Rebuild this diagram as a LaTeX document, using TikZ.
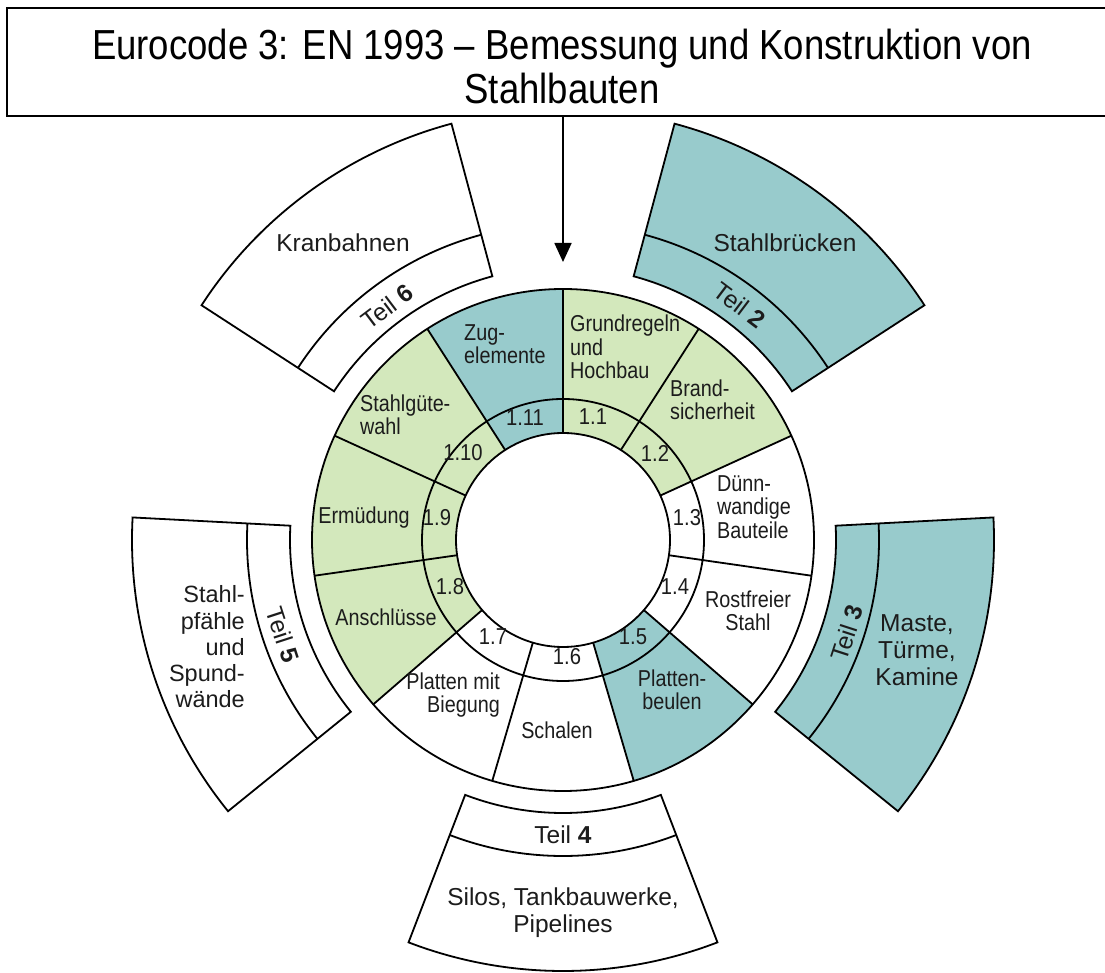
\documentclass[tikz,border=0pt]{standalone}
\usepackage{fontspec}
\setmainfont{Liberation Sans}
\usetikzlibrary{arrows.meta,calc}
\definecolor{wgreen}{RGB}{211,232,188}
\definecolor{wteal}{RGB}{152,203,204}
\definecolor{ink}{RGB}{28,28,28}
\begin{document}
\begin{tikzpicture}[x=1pt,y=1pt,
  ln/.style={line width=1.8pt,line join=miter},
  ringlbl/.style={inner sep=0pt,text=ink,xscale=0.86,font=\fontsize{23}{23.5}\selectfont},
  numlbl/.style={inner sep=0pt,text=ink,xscale=0.88,font=\fontsize{23}{23.5}\selectfont},
  partlbl/.style={inner sep=0pt,text=ink,font=\fontsize{24.5}{27}\selectfont},
  titletext/.style={inner sep=0pt,text=black,align=center,xscale=0.87,font=\fontsize{42}{44}\selectfont},
  titlebox/.style={draw,line width=1.8pt,minimum width=1103pt,minimum height=108pt,inner sep=0pt}]
\useasboundingbox (0,0) rectangle (1105,972);

% title and arrow into the wheel
\node[titlebox] (title) at (558.5,910) {};
\node[titletext] (titletext) at (562,906) {Eurocode 3: EN 1993 -- Bemessung und Konstruktion von\\Stahlbauten};
\coordinate (wheel) at (563,432);
\coordinate (tip) at (563,710);
\draw[line width=1.8pt,-{Triangle[length=19pt,width=17pt]}] (title.south -| tip) -- (tip);

\begin{scope}[shift={(wheel)}]
  % parts 2 to 6 around the wheel
  \foreach \c/\col in {54/wteal,126/white,198/white,270/white,342/wteal}{
    \pgfmathsetmacro\pa{\c-21}
    \pgfmathsetmacro\pb{\c+21}
    \filldraw[ln,fill=\col] (\pa:273) arc[start angle=\pa,end angle=\pb,radius=273]
      -- (\pb:431) arc[start angle=\pb,end angle=\pa,radius=431] -- cycle;
    \draw[ln] (\pa:316) arc[start angle=\pa,end angle=\pb,radius=316];
  }
  % the eleven sectors of part 1
  \foreach \col [count=\i from 0] in {wgreen,wgreen,white,white,wteal,white,white,wgreen,wgreen,wgreen,wteal}{
    \pgfmathsetmacro\sa{90-\i*360/11}
    \pgfmathsetmacro\sb{\sa-360/11}
    \fill[\col] (\sa:107) arc[start angle=\sa,end angle=\sb,radius=107]
      -- (\sb:251) arc[start angle=\sb,end angle=\sa,radius=251] -- cycle;
  }
  \foreach \i in {0,...,10}{
    \pgfmathsetmacro\sa{90-\i*360/11}
    \draw[ln] (\sa:107) -- (\sa:251);
  }
  \draw[ln] (0,0) circle[radius=107] circle[radius=141] circle[radius=251];
\end{scope}

% sector labels
\node[ringlbl,anchor=west,align=left] (s1) at (570,625) {Grundregeln\\und\\Hochbau};
\node[ringlbl,anchor=west,align=left] (s2) at (670,572) {Brand-\\sicherheit};
\node[ringlbl,anchor=west,align=left] (s3) at (717,465) {Dünn-\\wandige\\Bauteile};
\node[ringlbl,align=center] (s4) at (748,361) {Rostfreier\\Stahl};
\node[ringlbl,align=center] (s5) at (672,282) {Platten-\\beulen};
\node[ringlbl] (s6) at (557,242) {Schalen};
\node[ringlbl,anchor=east,align=right] (s7) at (500,277) {Platten mit\\Biegung};
\node[ringlbl] (s8) at (386,355) {Anschlüsse};
\node[ringlbl] (s9) at (364,454) {Ermüdung};
\node[ringlbl,anchor=west,align=left] (s10) at (360,557) {Stahlgüte-\\wahl};
\node[ringlbl,anchor=west,align=left] (s11) at (464,628) {Zug-\\elemente};

% sector numbers
\node[numlbl] (n1) at (593,555) {1.1};
\node[numlbl] (n2) at (655,519) {1.2};
\node[numlbl] (n3) at (687,454) {1.3};
\node[numlbl] (n4) at (675,385) {1.4};
\node[numlbl] (n5) at (633,335) {1.5};
\node[numlbl] (n6) at (567,315) {1.6};
\node[numlbl] (n7) at (493,335) {1.7};
\node[numlbl] (n8) at (450,385) {1.8};
\node[numlbl] (n9) at (437,454) {1.9};
\node[numlbl] (n10) at (463,519) {1.10};
\node[numlbl] (n11) at (525,554) {1.11};

% part labels
\node[partlbl] (p2) at (785,729) {Stahlbrücken};
\node[partlbl,rotate=-37] (t2) at ($(wheel)+(53:294)$) {Teil \textbf{2}};
\node[partlbl] (p6) at (343,729) {Kranbahnen};
\node[partlbl,rotate=37] (t6) at ($(wheel)+(127:292)$) {Teil \textbf{6}};
\node[partlbl,align=center] (p3) at (917,322) {Maste,\\Türme,\\Kamine};
\node[partlbl,rotate=72] (t3) at (847,339) {Teil \textbf{3}};
\node[partlbl,align=right,anchor=east,font=\fontsize{23.5}{26.2}\selectfont] (p5) at (245,325) {Stahl-\\pfähle\\und\\Spund-\\wände};
\node[partlbl,rotate=-72] (t5) at (283,337) {Teil \textbf{5}};
\node[partlbl] (t4) at (563,137) {Teil \textbf{4}};
\node[partlbl,align=center] (p4) at (563,59) {Silos, Tankbauwerke,\\Pipelines};
\end{tikzpicture}
\end{document}
